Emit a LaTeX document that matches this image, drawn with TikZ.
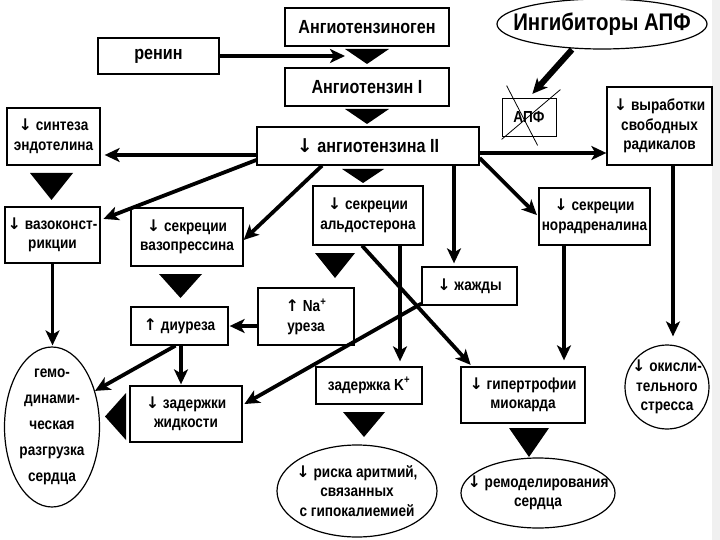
\documentclass[tikz,border=0pt]{standalone}
\usepackage{fontspec}
\setmainfont{Liberation Sans}[FakeStretch=0.85]
\newfontfamily\arrfont{DejaVu Sans}
\newcommand\dnar{{\arrfont\bfseries ↓}}
\newcommand\upar{{\arrfont\bfseries ↑}}
\usetikzlibrary{arrows.meta,shapes.geometric}
\begin{document}
\begin{tikzpicture}[x=1pt,y=-1pt,
  bx/.style={draw, line width=1.3pt, fill=white, align=center, inner sep=1pt,
    font=\fontsize{16}{19.5}\selectfont\bfseries},
  bigbx/.style={bx, font=\fontsize{19}{22}\selectfont\bfseries},
  ell/.style={ellipse, draw, line width=1.2pt, inner sep=0pt},
  lbl/.style={align=center, inner sep=0pt, font=\fontsize{16}{19.5}\selectfont\bfseries},
  con/.style={line width=3.8pt, -{Stealth[length=15pt,width=14pt,inset=4pt]}},
  tri/.style={fill=black},
  crossln/.style={line width=0.8pt}]
\useasboundingbox (0,0) rectangle (720,540);
\fill[white] (0,0) rectangle (720,540);
\fill[gray!12] (712,0) rectangle (720,540);

% boxes
\node[bigbx, minimum width=164pt, minimum height=38pt] (agen) at (367,27) {Ангиотензиноген};
\node[bigbx, minimum width=121pt, minimum height=36pt] (renin) at (158.5,56) {ренин};
\node[bigbx, minimum width=164pt, minimum height=38pt] (ang1) at (367,87) {Ангиотензин I};
\node[bigbx, minimum width=222pt, minimum height=38pt] (ang2) at (368,146) {\dnar\ ангиотензина II};
\node[bx, minimum width=54pt, minimum height=38pt, line width=0.8pt] (ace) at (529,117) {АПФ};
\node[bx, minimum width=105pt, minimum height=78pt] (rad) at (659.5,126) {\dnar\ выработки\\свободных\\радикалов};
\node[bx, minimum width=93pt, minimum height=57pt] (endo) at (53.5,136.5) {\dnar\ синтеза\\эндотелина};
\node[bx, minimum width=95pt, minimum height=56pt] (vaso) at (52.5,235) {\dnar\ вазоконст-\\рикции};
\node[bx, minimum width=112pt, minimum height=58pt] (vp) at (187,237) {\dnar\ секреции\\вазопрессина};
\node[bx, minimum width=110pt, minimum height=59pt] (ald) at (368,215.5) {\dnar\ секреции\\альдостерона};
\node[bx, minimum width=111pt, minimum height=57pt] (nor) at (594.5,216.5) {\dnar\ секреции\\норадреналина};
\node[bx, minimum width=95pt, minimum height=38pt] (thirst) at (469.5,286) {\dnar\ жажды};
\node[bx, minimum width=96pt, minimum height=57pt] (na) at (306,316.5) {\upar\ Na\textsuperscript{+}\\уреза};
\node[bx, minimum width=97pt, minimum height=38pt] (diur) at (179.5,326) {\upar\ диуреза};
\node[bx, minimum width=112pt, minimum height=56pt] (fluid) at (186,414) {\dnar\ задержки\\жидкости};
\node[bx, minimum width=106pt, minimum height=37pt] (kret) at (369,385.5) {задержка K\textsuperscript{+}};
\node[bx, minimum width=124pt, minimum height=56pt] (hyper) at (523,395) {\dnar\ гипертрофии\\миокарда};

% ellipses
\node[ell, minimum width=210pt, minimum height=50pt,
  label={[lbl, font=\fontsize{24}{26}\selectfont\bfseries]center:{Ингибиторы АПФ}}] (inh) at (602,24) {};
\node[ell, minimum width=95pt, minimum height=160pt,
  label={[lbl, font=\fontsize{16}{26}\selectfont\bfseries]center:{гемо-\\динами-\\ческая\\разгрузка\\сердца}}] (hemo) at (52,427) {};
\node[ell, minimum width=160pt, minimum height=92pt,
  label={[lbl]center:{\dnar\ риска аритмий,\\связанных\\с гипокалиемией}}] (arr) at (357,491) {};
\node[ell, minimum width=154pt, minimum height=70pt,
  label={[lbl]center:{\dnar\ ремоделирования\\сердца}}] (remod) at (538,493) {};
\node[ell, minimum width=84pt, minimum height=84pt,
  label={[lbl]center:{\dnar\ окисли-\\тельного\\стресса}}] (oxid) at (667,387) {};

% black triangles
\fill[tri] (345,49) -- (389,49) -- (367,64) -- cycle;
\fill[tri] (345,109) -- (389,109) -- (367,124) -- cycle;
\fill[tri] (342,169) -- (384,169) -- (363,183) -- cycle;
\fill[tri] (30,173) -- (73,173) -- (51.5,200) -- cycle;
\fill[tri] (159,274) -- (202,274) -- (180.5,298) -- cycle;
\fill[tri] (315,253) -- (355,253) -- (335,278) -- cycle;
\fill[tri] (343,412) -- (385,412) -- (364,437) -- cycle;
\fill[tri] (509,428) -- (549,428) -- (529,457) -- cycle;
\fill[tri] (126,393) -- (126,440) -- (105,416.5) -- cycle;

% ACE crossed out
\draw[crossln] ([shift={(5pt,12pt)}]ace.north west) -- ([shift={(36pt,-9pt)}]ace.south west);
\draw[crossln] ([shift={(4pt,8pt)}]ace.north east) -- ([shift={(0pt,-3pt)}]ace.south west);

% connectors
\coordinate (reninEnd) at (345,56);
\draw[con] (renin.east) -- (reninEnd);
\draw[con, line width=6pt, shorten >=5pt] ([xshift=-30pt]inh.south) -- (ace.north);
\draw[con, shorten >=4pt] ([yshift=-9pt]ang2.west) -- ([yshift=-9pt]ang2.west -| endo.east);
\draw[con, shorten >=3pt] ([yshift=-14pt]ang2.west) -- ([yshift=15pt]vaso.east);
\draw[con] ([xshift=-46pt]ang2.south) -- ([yshift=-3pt]vp.east);
\draw[con, shorten >=3pt] ([xshift=86pt]ang2.south) -- ([xshift=86pt]ang2.south |- thirst.north);
\draw[con, shorten >=2pt] ([yshift=-12pt]ang2.east) -- (nor.west);
\draw[con] ([yshift=-7pt]ang2.east) -- ([yshift=-7pt]ang2.east -| rad.west);
\draw[con, shorten >=1pt] (vaso.south) -- (vaso.south |- hemo.north);
\draw[con, shorten >=1pt] ([yshift=-9.5pt]na.west) -- ([yshift=-9.5pt]na.west -| diur.east);
\draw[con, shorten >=1pt] ([xshift=1.5pt]diur.south) -- ([xshift=1.5pt]diur.south |- fluid.north);
\draw[con] ([xshift=-4pt]diur.south) -- (hemo.40);
\draw[con, shorten >=2pt] ([yshift=2pt]thirst.south west) -- ([yshift=9pt]fluid.east);
\draw[con, shorten >=5pt] ([xshift=32pt]ald.south) -- ([xshift=32pt]ald.south |- kret.north);
\draw[con, shorten >=2pt] ([xshift=-6pt]ald.south) -- ([xshift=-51pt]hyper.north);
\draw[con, shorten >=6pt] ([xshift=-30.5pt]nor.south) -- ([xshift=-30.5pt]nor.south |- hyper.north);
\draw[con, shorten >=8pt] ([xshift=13.5pt]rad.south) -- ([xshift=13.5pt]rad.south |- oxid.north);
\end{tikzpicture}
\end{document}
